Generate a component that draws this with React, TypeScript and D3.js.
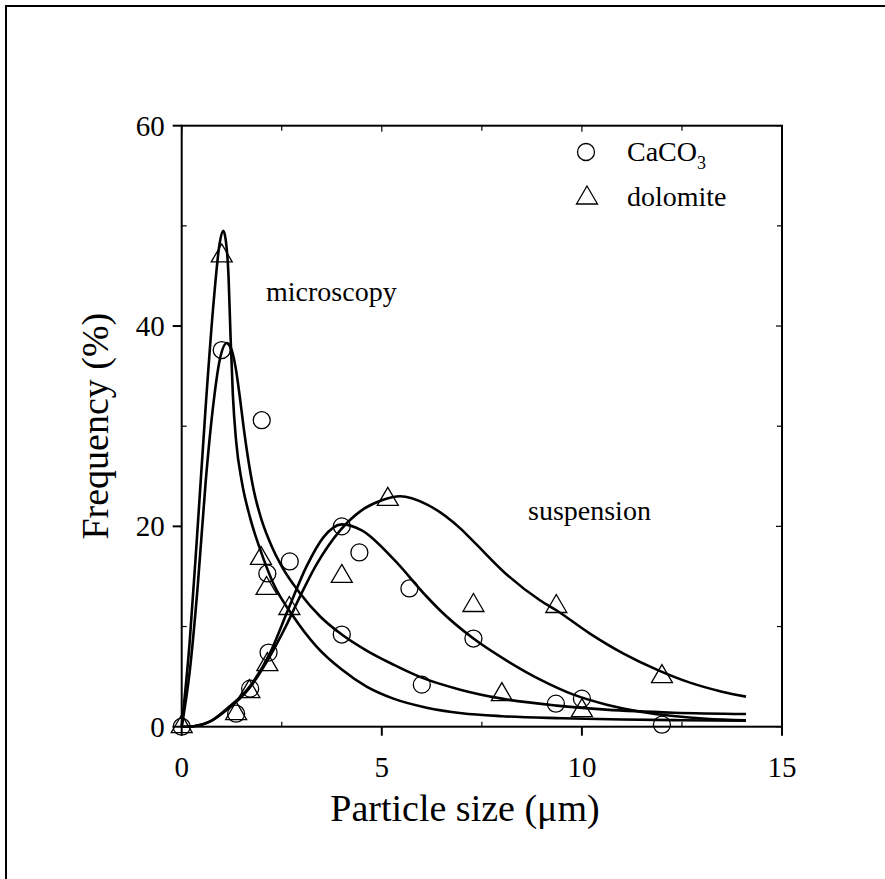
import React from "react";
import * as d3 from "d3";

// Axis ticks
const xMajorTicks = [0, 5, 10, 15];
const xMinorTicks = [2.5, 7.5, 12.5];
const yMajorTicks = [0, 20, 40, 60];
const yMinorTicks = [10, 30, 50];

// Measured size distributions (particle size µm, frequency %)
const caco3Size = [0, 1.0, 2.0, 2.7, 2.14, 4.0, 4.44, 5.69, 4.0, 2.17, 1.71, 1.36, 6.0, 7.29, 9.35, 10.0, 12.0];
const caco3Freq = [0, 37.6, 30.6, 16.5, 15.3, 20.0, 17.4, 13.8, 9.2, 7.4, 3.8, 1.3, 4.2, 8.8, 2.3, 2.8, 0.2];

const dolomiteSize = [0, 1.0, 1.98, 2.12, 2.69, 4.0, 5.15, 2.14, 1.69, 1.36, 7.29, 9.36, 12.0, 8.0, 10.0];
const dolomiteFreq = [0, 47.0, 16.8, 13.8, 11.8, 15.0, 22.7, 6.2, 3.5, 1.3, 12.1, 12.0, 5.0, 3.2, 1.6];

// Fitted distribution curves
const dolomiteMicroFit: [number, number][] = [
  [0, 0], [0.2, 8.5], [0.4, 20], [0.6, 32], [0.8, 42.5], [0.95, 48.3], [1.04, 49.5],
  [1.1, 48.6], [1.17, 45], [1.22, 39], [1.28, 33], [1.36, 28.5], [1.5, 24.5], [1.7, 21],
  [1.96, 17.7], [2.29, 14.3], [2.79, 11.0], [3.37, 8.0], [4.0, 5.7], [4.62, 4.0],
  [5.29, 2.8], [6.12, 1.9], [7.0, 1.35], [8.0, 1.05], [9.5, 0.85], [11, 0.72], [12.5, 0.65], [14.1, 0.6],
];

const caco3MicroFit: [number, number][] = [
  [0, 0], [0.2, 5.5], [0.4, 14], [0.6, 24.5], [0.8, 32.5], [0.95, 36.6], [1.13, 38.3],
  [1.25, 37.6], [1.35, 35.8], [1.45, 33.0], [1.55, 29.8], [1.65, 27.0], [1.8, 23.6],
  [2.0, 20.6], [2.25, 18.0], [2.5, 16.0], [2.96, 13.3], [3.46, 11.0], [4.0, 9.2],
  [4.62, 7.6], [5.29, 6.2], [6.0, 4.9], [6.96, 3.7], [8.0, 2.8], [9.37, 2.1],
  [10.6, 1.7], [12.3, 1.4], [14.1, 1.27],
];

const caco3SuspFit: [number, number][] = [
  [0, 0], [0.3, 0.05], [0.7, 0.5], [1.1, 1.7], [1.7, 4.0], [2.2, 7.3], [2.67, 11.8],
  [3.12, 16.0], [3.54, 18.9], [4.0, 20.2], [4.5, 19.6], [5.3, 16.7], [6.12, 13.0],
  [6.46, 11.6], [7.29, 8.8], [8.12, 6.6], [8.96, 4.7], [9.79, 3.2], [10.62, 2.2],
  [11.46, 1.5], [12.29, 1.07], [13.1, 0.8], [14.1, 0.65],
];

const dolomiteSuspFit: [number, number][] = [
  [0, 0], [0.3, 0.05], [0.7, 0.5], [1.1, 1.6], [1.7, 3.9], [2.2, 7.0], [2.6, 10.0],
  [2.92, 12.7], [3.37, 16.2], [3.96, 19.6], [4.46, 21.5], [5.0, 22.6], [5.46, 23.0],
  [6.12, 22.2], [6.96, 19.8], [7.29, 18.5], [8.12, 15.2], [8.96, 12.6], [9.37, 11.6],
  [10.2, 9.3], [11.04, 7.3], [11.87, 5.7], [12.7, 4.4], [13.5, 3.5], [14.1, 3.0],
];

const legendLabels = ["CaCO", "dolomite"];

const FONT = "'Liberation Serif', 'Times New Roman', serif";

export default function App() {
  const width = 885;
  const height = 879;
  const left = 181.7;
  const right = 782;
  const top = 125.7;
  const bottom = 726.7;

  const x = d3.scaleLinear().domain([0, 15]).range([left, right]);
  const y = d3.scaleLinear().domain([0, 60]).range([bottom, top]);

  const line = d3
    .line<[number, number]>()
    .x((d) => x(d[0]))
    .y((d) => y(d[1]))
    .curve(d3.curveMonotoneX);

  const fits = [dolomiteMicroFit, caco3MicroFit, caco3SuspFit, dolomiteSuspFit];

  const triPath = (cx: number, cy: number) => {
    const w = 10.5;
    const h = 18;
    return `M${cx},${cy - (2 * h) / 3} L${cx + w},${cy + h / 3} L${cx - w},${cy + h / 3} Z`;
  };

  return (
    <svg width={width} height={height} style={{ display: "block", position: "absolute", left: 0, top: 0 }}>
      <rect x={0} y={0} width={width} height={height} fill="#fff" />
      {/* outer frame */}
      <rect x={6} y={6} width={width + 20} height={height + 20} fill="none" stroke="#000" strokeWidth={2} />

      {/* fitted curves */}
      {fits.map((f, i) => (
        <path key={i} d={line(f) || ""} fill="none" stroke="#000" strokeWidth={2.6} strokeLinejoin="round" />
      ))}

      {/* data markers */}
      {caco3Size.map((s, i) => (
        <circle key={"c" + i} cx={x(s)} cy={y(caco3Freq[i])} r={8.5} fill="none" stroke="#000" strokeWidth={1.3} />
      ))}
      {dolomiteSize.map((s, i) => (
        <path key={"t" + i} d={triPath(x(s), y(dolomiteFreq[i]))} fill="none" stroke="#000" strokeWidth={1.3} />
      ))}

      {/* axes frame */}
      <rect x={left} y={top} width={right - left} height={bottom - top} fill="none" stroke="#000" strokeWidth={2} />

      {/* bottom axis ticks */}
      {xMajorTicks.map((t) => (
        <g key={"xt" + t}>
          <line x1={x(t)} x2={x(t)} y1={bottom} y2={bottom + 9} stroke="#000" strokeWidth={2} />
          <line x1={x(t)} x2={x(t)} y1={top} y2={top + 6} stroke="#000" strokeWidth={1.2} />
          <text x={x(t)} y={bottom + 50} textAnchor="middle" fontFamily={FONT} fontSize={29}>
            {t}
          </text>
        </g>
      ))}
      {xMinorTicks.map((t) => (
        <g key={"xm" + t}>
          <line x1={x(t)} x2={x(t)} y1={bottom} y2={bottom - 5} stroke="#000" strokeWidth={1.2} />
          <line x1={x(t)} x2={x(t)} y1={top} y2={top + 5} stroke="#000" strokeWidth={1.2} />
        </g>
      ))}

      {/* left axis ticks */}
      {yMajorTicks.map((t) => (
        <g key={"yt" + t}>
          <line x1={left - 9} x2={left} y1={y(t)} y2={y(t)} stroke="#000" strokeWidth={2} />
          <line x1={right - 6} x2={right} y1={y(t)} y2={y(t)} stroke="#000" strokeWidth={1.2} />
          <text x={left - 17} y={y(t) + 10} textAnchor="end" fontFamily={FONT} fontSize={29}>
            {t}
          </text>
        </g>
      ))}
      {yMinorTicks.map((t) => (
        <g key={"ym" + t}>
          <line x1={left} x2={left + 5} y1={y(t)} y2={y(t)} stroke="#000" strokeWidth={1.2} />
          <line x1={right - 5} x2={right} y1={y(t)} y2={y(t)} stroke="#000" strokeWidth={1.2} />
        </g>
      ))}

      {/* axis titles */}
      <text x={465} y={bottom + 94} textAnchor="middle" fontFamily={FONT} fontSize={38}>
        Particle size (μm)
      </text>
      <text
        transform={`translate(108, ${(top + bottom) / 2}) rotate(-90)`}
        textAnchor="middle"
        fontFamily={FONT}
        fontSize={38}
      >
        Frequency (%)
      </text>

      {/* annotations */}
      <text x={266} y={301} fontFamily={FONT} fontSize={28}>
        microscopy
      </text>
      <text x={528} y={520} fontFamily={FONT} fontSize={28}>
        suspension
      </text>

      {/* legend */}
      <circle cx={586} cy={152} r={8.5} fill="none" stroke="#000" strokeWidth={1.3} />
      <text x={627} y={161} fontFamily={FONT} fontSize={28}>
        {legendLabels[0]}
        <tspan dy={8} fontSize={18}>3</tspan>
      </text>
      <path d={triPath(587, 198)} fill="none" stroke="#000" strokeWidth={1.3} />
      <text x={627} y={206} fontFamily={FONT} fontSize={28}>
        {legendLabels[1]}
      </text>
    </svg>
  );
}
